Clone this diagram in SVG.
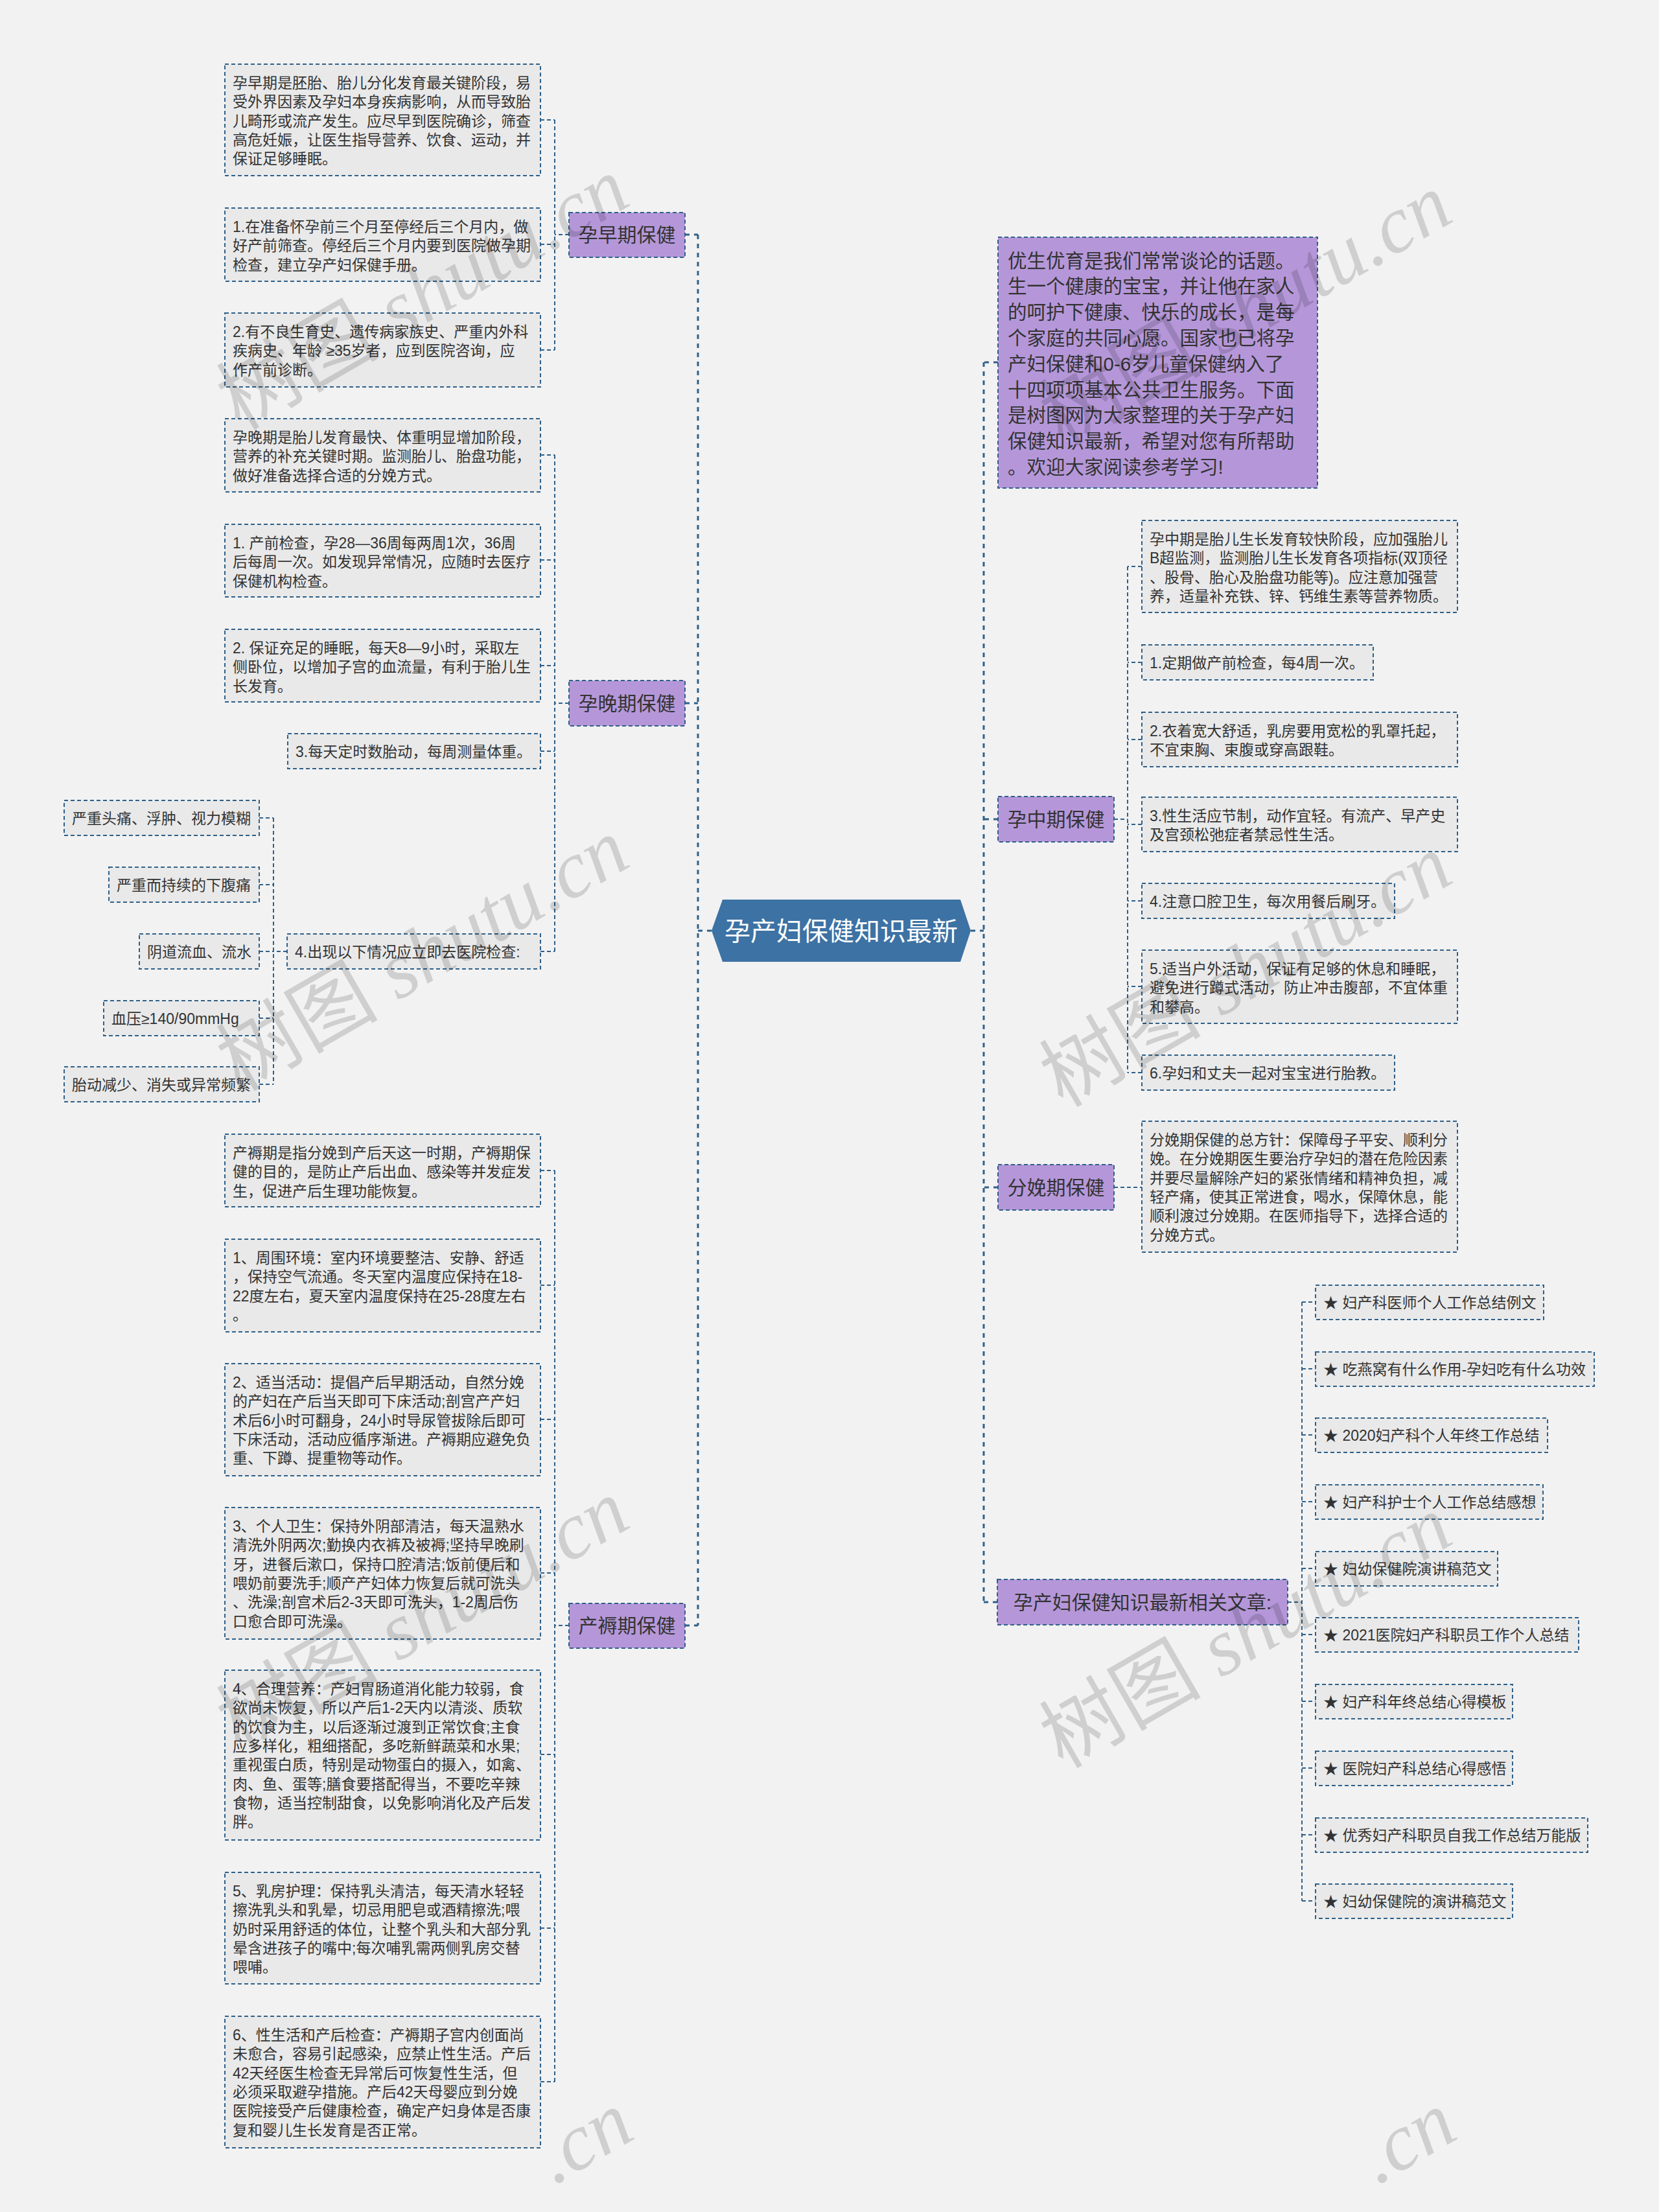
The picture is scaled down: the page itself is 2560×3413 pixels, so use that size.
<svg xmlns="http://www.w3.org/2000/svg" width="2560" height="3413" viewBox="0 0 2560 3413">
<style>
.bg{fill:#f2f2f2}
.box{fill:#e9e9e9;stroke:#2e6089;stroke-width:2;stroke-dasharray:6 4}
.pn{fill:#b597d9;stroke:#2e6089;stroke-width:2;stroke-dasharray:6 4}
.t{font-family:"Liberation Sans","Noto Sans CJK SC",sans-serif;font-size:23px;fill:#333}
.tn{font-family:"Liberation Sans","Noto Sans CJK SC",sans-serif;font-size:30px;fill:#333;text-anchor:middle}
.tb{font-family:"Liberation Sans","Noto Sans CJK SC",sans-serif;font-size:29.5px;fill:#333}
.c1{fill:none;stroke:#2e6089;stroke-width:3;stroke-dasharray:7 7}
.c2{fill:none;stroke:#2e6089;stroke-width:2;stroke-dasharray:6 4}
.wm{font-family:"Liberation Serif","Noto Sans CJK SC",serif;font-size:125px;fill:#000;fill-opacity:0.14}
</style>
<rect class="bg" x="0" y="0" width="2560" height="3413"/>

<g id="connectors">
<path class="c1" d="M1077,362 V2508 M1057,362 H1077 M1057,1085 H1077 M1057,2508 H1077 M1098,1436 H1077"/>
<path class="c1" d="M1518,559 V2472 M1540,559 H1518 M1540,1264 H1518 M1540,1832 H1518 M1539,2472 H1518 M1498,1436 H1518"/>
<path class="c2" d="M878,362 H856 M856,185 V540 M834,185 H856 M834,377 H856 M834,540 H856"/>
<path class="c2" d="M878,1085 H856 M856,702 V1468 M834,702 H856 M834,864 H856 M834,1027 H856 M834,1159 H856 M834,1468 H856"/>
<path class="c2" d="M443,1468 H422 M422,1262 V1673 M400,1262 H422 M400,1365 H422 M400,1468 H422 M400,1571 H422 M400,1673 H422"/>
<path class="c2" d="M878,2508 H856 M856,1806 V3212 M834,1806 H856 M834,1983 H856 M834,2190 H856 M834,2427 H856 M834,2707 H856 M834,2975 H856 M834,3212 H856"/>
<path class="c2" d="M1719,1264 H1740 M1740,874 V1655 M1762,874 H1740 M1762,1022 H1740 M1762,1141 H1740 M1762,1272 H1740 M1762,1390 H1740 M1762,1522 H1740 M1762,1655 H1740"/>
<path class="c2" d="M1719,1832 H1762"/>
<path class="c2" d="M1987,2472 H2009 M2009,2009 V2933 M2009,2009 H2030 M2009,2112 H2030 M2009,2214 H2030 M2009,2317 H2030 M2009,2420 H2030 M2009,2522 H2030 M2009,2625 H2030 M2009,2728 H2030 M2009,2831 H2030 M2009,2933 H2030"/>
</g>

<g id="center">
<polygon points="1098,1436 1115,1388 1482,1388 1498,1436 1482,1484 1115,1484" fill="#3d72a4"/>
<text x="1298" y="1451" font-family="Liberation Sans,Noto Sans CJK SC,sans-serif" font-size="40" fill="#fff" text-anchor="middle">孕产妇保健知识最新</text>
</g>

<g id="n-zaoqi">
<rect class="pn" x="878" y="328" width="179" height="69"/>
<text class="tn" x="967.5" y="373">孕早期保健</text>
</g>
<g id="n-zaoqi-a">
<rect class="box" x="347" y="99" width="487" height="172"/>
<text class="t"><tspan x="359" y="136">孕早期是胚胎、胎儿分化发育最关键阶段，易</tspan><tspan x="359" y="165.3">受外界因素及孕妇本身疾病影响，从而导致胎</tspan><tspan x="359" y="194.6">儿畸形或流产发生。应尽早到医院确诊，筛查</tspan><tspan x="359" y="223.9">高危妊娠，让医生指导营养、饮食、运动，并</tspan><tspan x="359" y="253.2">保证足够睡眠。</tspan></text>
</g>
<g id="n-zaoqi-b">
<rect class="box" x="347" y="321" width="487" height="113"/>
<text class="t"><tspan x="359" y="358">1.在准备怀孕前三个月至停经后三个月内，做</tspan><tspan x="359" y="387.3">好产前筛查。停经后三个月内要到医院做孕期</tspan><tspan x="359" y="416.6">检查，建立孕产妇保健手册。</tspan></text>
</g>
<g id="n-zaoqi-c">
<rect class="box" x="347" y="483" width="487" height="114"/>
<text class="t"><tspan x="359" y="520">2.有不良生育史、遗传病家族史、严重内外科</tspan><tspan x="359" y="549.3">疾病史、年龄 ≥35岁者，应到医院咨询，应</tspan><tspan x="359" y="578.6">作产前诊断。</tspan></text>
</g>

<g id="n-wanqi">
<rect class="pn" x="878" y="1050" width="179" height="70"/>
<text class="tn" x="967.5" y="1096">孕晚期保健</text>
</g>
<g id="n-wanqi-a">
<rect class="box" x="347" y="646" width="487" height="113"/>
<text class="t"><tspan x="359" y="683">孕晚期是胎儿发育最快、体重明显增加阶段，</tspan><tspan x="359" y="712.3">营养的补充关键时期。监测胎儿、胎盘功能，</tspan><tspan x="359" y="741.6">做好准备选择合适的分娩方式。</tspan></text>
</g>
<g id="n-wanqi-b">
<rect class="box" x="347" y="809" width="487" height="112"/>
<text class="t"><tspan x="359" y="846">1. 产前检查，孕28—36周每两周1次，36周</tspan><tspan x="359" y="875.3">后每周一次。如发现异常情况，应随时去医疗</tspan><tspan x="359" y="904.6">保健机构检查。</tspan></text>
</g>
<g id="n-wanqi-c">
<rect class="box" x="347" y="971" width="487" height="112"/>
<text class="t"><tspan x="359" y="1008">2. 保证充足的睡眠，每天8—9小时，采取左</tspan><tspan x="359" y="1037.3">侧卧位，以增加子宫的血流量，有利于胎儿生</tspan><tspan x="359" y="1066.6">长发育。</tspan></text>
</g>
<g id="n-wanqi-d">
<rect class="box" x="444" y="1132" width="390" height="54"/>
<text class="t" x="456" y="1168">3.每天定时数胎动，每周测量体重。</text>
</g>
<g id="n-wanqi-e">
<rect class="box" x="443" y="1441" width="391" height="54"/>
<text class="t" x="455" y="1477">4.出现以下情况应立即去医院检查:</text>
</g>
<g id="n-e1">
<rect class="box" x="99" y="1235" width="301" height="54"/>
<text class="t" x="111" y="1271">严重头痛、浮肿、视力模糊</text>
</g>
<g id="n-e2">
<rect class="box" x="168" y="1338" width="232" height="54"/>
<text class="t" x="180" y="1374">严重而持续的下腹痛</text>
</g>
<g id="n-e3">
<rect class="box" x="215" y="1441" width="185" height="54"/>
<text class="t" x="227" y="1477">阴道流血、流水</text>
</g>
<g id="n-e4">
<rect class="box" x="160" y="1544" width="240" height="54"/>
<text class="t" x="172" y="1580">血压≥140/90mmHg</text>
</g>
<g id="n-e5">
<rect class="box" x="99" y="1646" width="301" height="54"/>
<text class="t" x="111" y="1682">胎动减少、消失或异常频繁</text>
</g>

<g id="n-chanru">
<rect class="pn" x="878" y="2474" width="179" height="69"/>
<text class="tn" x="967.5" y="2519">产褥期保健</text>
</g>
<g id="n-chanru-a">
<rect class="box" x="347" y="1750" width="487" height="112"/>
<text class="t"><tspan x="359" y="1787">产褥期是指分娩到产后天这一时期，产褥期保</tspan><tspan x="359" y="1816.3">健的目的，是防止产后出血、感染等并发症发</tspan><tspan x="359" y="1845.6">生，促进产后生理功能恢复。</tspan></text>
</g>
<g id="n-chanru-b">
<rect class="box" x="347" y="1912" width="487" height="143"/>
<text class="t"><tspan x="359" y="1949">1、周围环境：室内环境要整洁、安静、舒适</tspan><tspan x="359" y="1978.3">，保持空气流通。冬天室内温度应保持在18-</tspan><tspan x="359" y="2007.6">22度左右，夏天室内温度保持在25-28度左右</tspan><tspan x="359" y="2036.9">。</tspan></text>
</g>
<g id="n-chanru-c">
<rect class="box" x="347" y="2104" width="487" height="173"/>
<text class="t"><tspan x="359" y="2141">2、适当活动：提倡产后早期活动，自然分娩</tspan><tspan x="359" y="2170.3">的产妇在产后当天即可下床活动;剖宫产产妇</tspan><tspan x="359" y="2199.6">术后6小时可翻身，24小时导尿管拔除后即可</tspan><tspan x="359" y="2228.9">下床活动，活动应循序渐进。产褥期应避免负</tspan><tspan x="359" y="2258.2">重、下蹲、提重物等动作。</tspan></text>
</g>
<g id="n-chanru-d">
<rect class="box" x="347" y="2326" width="487" height="203"/>
<text class="t"><tspan x="359" y="2363">3、个人卫生：保持外阴部清洁，每天温熟水</tspan><tspan x="359" y="2392.3">清洗外阴两次;勤换内衣裤及被褥;坚持早晚刷</tspan><tspan x="359" y="2421.6">牙，进餐后漱口，保持口腔清洁;饭前便后和</tspan><tspan x="359" y="2450.9">喂奶前要洗手;顺产产妇体力恢复后就可洗头</tspan><tspan x="359" y="2480.2">、洗澡;剖宫术后2-3天即可洗头，1-2周后伤</tspan><tspan x="359" y="2509.5">口愈合即可洗澡。</tspan></text>
</g>
<g id="n-chanru-e">
<rect class="box" x="347" y="2577" width="487" height="262"/>
<text class="t"><tspan x="359" y="2614">4、合理营养：产妇胃肠道消化能力较弱，食</tspan><tspan x="359" y="2643.3">欲尚未恢复，所以产后1-2天内以清淡、质软</tspan><tspan x="359" y="2672.6">的饮食为主，以后逐渐过渡到正常饮食;主食</tspan><tspan x="359" y="2701.9">应多样化，粗细搭配，多吃新鲜蔬菜和水果;</tspan><tspan x="359" y="2731.2">重视蛋白质，特别是动物蛋白的摄入，如禽、</tspan><tspan x="359" y="2760.5">肉、鱼、蛋等;膳食要搭配得当，不要吃辛辣</tspan><tspan x="359" y="2789.8">食物，适当控制甜食，以免影响消化及产后发</tspan><tspan x="359" y="2819.1">胖。</tspan></text>
</g>
<g id="n-chanru-f">
<rect class="box" x="347" y="2889" width="487" height="172"/>
<text class="t"><tspan x="359" y="2926">5、乳房护理：保持乳头清洁，每天清水轻轻</tspan><tspan x="359" y="2955.3">擦洗乳头和乳晕，切忌用肥皂或酒精擦洗;喂</tspan><tspan x="359" y="2984.6">奶时采用舒适的体位，让整个乳头和大部分乳</tspan><tspan x="359" y="3013.9">晕含进孩子的嘴中;每次哺乳需两侧乳房交替</tspan><tspan x="359" y="3043.2">喂哺。</tspan></text>
</g>
<g id="n-chanru-g">
<rect class="box" x="347" y="3111" width="487" height="203"/>
<text class="t"><tspan x="359" y="3148">6、性生活和产后检查：产褥期子宫内创面尚</tspan><tspan x="359" y="3177.3">未愈合，容易引起感染，应禁止性生活。产后</tspan><tspan x="359" y="3206.6">42天经医生检查无异常后可恢复性生活，但</tspan><tspan x="359" y="3235.9">必须采取避孕措施。产后42天母婴应到分娩</tspan><tspan x="359" y="3265.2">医院接受产后健康检查，确定产妇身体是否康</tspan><tspan x="359" y="3294.5">复和婴儿生长发育是否正常。</tspan></text>
</g>

<g id="n-intro">
<rect class="pn" x="1540" y="366" width="493" height="387"/>
<text class="tb"><tspan x="1555" y="412.6">优生优育是我们常常谈论的话题。</tspan><tspan x="1555" y="452.4">生一个健康的宝宝，并让他在家人</tspan><tspan x="1555" y="492.2">的呵护下健康、快乐的成长，是每</tspan><tspan x="1555" y="532">个家庭的共同心愿。国家也已将孕</tspan><tspan x="1555" y="571.8">产妇保健和0-6岁儿童保健纳入了</tspan><tspan x="1555" y="611.6">十四项项基本公共卫生服务。下面</tspan><tspan x="1555" y="651.4">是树图网为大家整理的关于孕产妇</tspan><tspan x="1555" y="691.2">保健知识最新，希望对您有所帮助</tspan><tspan x="1555" y="731">。欢迎大家阅读参考学习!</tspan></text>
</g>

<g id="n-zhongqi">
<rect class="pn" x="1540" y="1229" width="179" height="70"/>
<text class="tn" x="1629.5" y="1275">孕中期保健</text>
</g>
<g id="n-zhongqi-a">
<rect class="box" x="1762" y="803" width="487" height="142"/>
<text class="t"><tspan x="1774" y="840">孕中期是胎儿生长发育较快阶段，应加强胎儿</tspan><tspan x="1774" y="869.3">B超监测，监测胎儿生长发育各项指标(双顶径</tspan><tspan x="1774" y="898.6">、股骨、胎心及胎盘功能等)。应注意加强营</tspan><tspan x="1774" y="927.9">养，适量补充铁、锌、钙维生素等营养物质。</tspan></text>
</g>
<g id="n-zhongqi-b">
<rect class="box" x="1762" y="995" width="357" height="54"/>
<text class="t" x="1774" y="1031">1.定期做产前检查，每4周一次。</text>
</g>
<g id="n-zhongqi-c">
<rect class="box" x="1762" y="1099" width="487" height="84"/>
<text class="t"><tspan x="1774" y="1136">2.衣着宽大舒适，乳房要用宽松的乳罩托起，</tspan><tspan x="1774" y="1165.3">不宜束胸、束腹或穿高跟鞋。</tspan></text>
</g>
<g id="n-zhongqi-d">
<rect class="box" x="1762" y="1230" width="487" height="84"/>
<text class="t"><tspan x="1774" y="1267">3.性生活应节制，动作宜轻。有流产、早产史</tspan><tspan x="1774" y="1296.3">及宫颈松弛症者禁忌性生活。</tspan></text>
</g>
<g id="n-zhongqi-e">
<rect class="box" x="1762" y="1363" width="390" height="54"/>
<text class="t" x="1774" y="1399">4.注意口腔卫生，每次用餐后刷牙。</text>
</g>
<g id="n-zhongqi-f">
<rect class="box" x="1762" y="1466" width="487" height="113"/>
<text class="t"><tspan x="1774" y="1503">5.适当户外活动，保证有足够的休息和睡眠，</tspan><tspan x="1774" y="1532.3">避免进行蹲式活动，防止冲击腹部，不宜体重</tspan><tspan x="1774" y="1561.6">和攀高。</tspan></text>
</g>
<g id="n-zhongqi-g">
<rect class="box" x="1762" y="1628" width="390" height="54"/>
<text class="t" x="1774" y="1664">6.孕妇和丈夫一起对宝宝进行胎教。</text>
</g>

<g id="n-fenmian">
<rect class="pn" x="1540" y="1797" width="179" height="70"/>
<text class="tn" x="1629.5" y="1843">分娩期保健</text>
</g>
<g id="n-fenmian-a">
<rect class="box" x="1762" y="1730" width="487" height="202"/>
<text class="t"><tspan x="1774" y="1767">分娩期保健的总方针：保障母子平安、顺利分</tspan><tspan x="1774" y="1796.3">娩。在分娩期医生要治疗孕妇的潜在危险因素</tspan><tspan x="1774" y="1825.6">并要尽量解除产妇的紧张情绪和精神负担，减</tspan><tspan x="1774" y="1854.9">轻产痛，使其正常进食，喝水，保障休息，能</tspan><tspan x="1774" y="1884.2">顺利渡过分娩期。在医师指导下，选择合适的</tspan><tspan x="1774" y="1913.5">分娩方式。</tspan></text>
</g>

<g id="n-related">
<rect class="pn" x="1539" y="2437" width="448" height="70"/>
<text class="tn" x="1763" y="2483">孕产妇保健知识最新相关文章:</text>
</g>
<g id="r1"><rect class="box" x="2030" y="1983" width="352" height="53"/><text class="t" x="2042" y="2018">★ 妇产科医师个人工作总结例文</text></g>
<g id="r2"><rect class="box" x="2030" y="2086" width="430" height="53"/><text class="t" x="2042" y="2121">★ 吃燕窝有什么作用-孕妇吃有什么功效</text></g>
<g id="r3"><rect class="box" x="2030" y="2188" width="358" height="53"/><text class="t" x="2042" y="2223">★ 2020妇产科个人年终工作总结</text></g>
<g id="r4"><rect class="box" x="2030" y="2291" width="351" height="53"/><text class="t" x="2042" y="2326">★ 妇产科护士个人工作总结感想</text></g>
<g id="r5"><rect class="box" x="2030" y="2394" width="281" height="53"/><text class="t" x="2042" y="2429">★ 妇幼保健院演讲稿范文</text></g>
<g id="r6"><rect class="box" x="2030" y="2496" width="406" height="53"/><text class="t" x="2042" y="2531">★ 2021医院妇产科职员工作个人总结</text></g>
<g id="r7"><rect class="box" x="2030" y="2599" width="304" height="53"/><text class="t" x="2042" y="2634">★ 妇产科年终总结心得模板</text></g>
<g id="r8"><rect class="box" x="2030" y="2702" width="304" height="53"/><text class="t" x="2042" y="2737">★ 医院妇产科总结心得感悟</text></g>
<g id="r9"><rect class="box" x="2030" y="2805" width="420" height="53"/><text class="t" x="2042" y="2840">★ 优秀妇产科职员自我工作总结万能版</text></g>
<g id="r10"><rect class="box" x="2030" y="2907" width="304" height="53"/><text class="t" x="2042" y="2942">★ 妇幼保健院的演讲稿范文</text></g>

<g id="watermarks" class="wm">
<text transform="translate(370,665) rotate(-30)">树图 <tspan font-style="italic">shutu.cn</tspan></text>
<text transform="translate(370,1685) rotate(-30)">树图 <tspan font-style="italic">shutu.cn</tspan></text>
<text transform="translate(370,2705) rotate(-30)">树图 <tspan font-style="italic">shutu.cn</tspan></text>
<text transform="translate(1640,690) rotate(-30)">树图 <tspan font-style="italic">shutu.cn</tspan></text>
<text transform="translate(1640,1710) rotate(-30)">树图 <tspan font-style="italic">shutu.cn</tspan></text>
<text transform="translate(1640,2730) rotate(-30)">树图 <tspan font-style="italic">shutu.cn</tspan></text>
<text transform="translate(855,3372) rotate(-30)" font-style="italic">.cn</text>
<text transform="translate(2125,3372) rotate(-30)" font-style="italic">.cn</text>
</g>
</svg>
